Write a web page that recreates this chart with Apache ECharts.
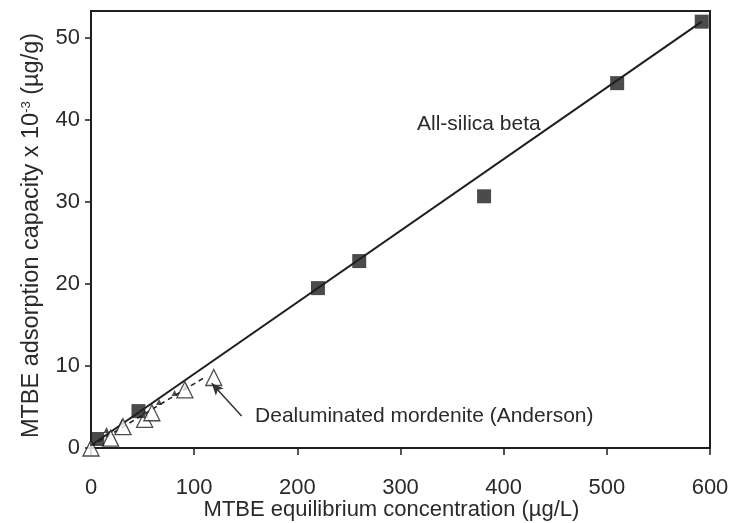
<!DOCTYPE html>
<html>
<head>
<meta charset="utf-8">
<script src="https://cdn.jsdelivr.net/npm/echarts@6/dist/echarts.min.js"></script>
<style>
  html, body { margin: 0; padding: 0; background: #fff; }
  #chart { width: 734px; height: 523px; }
</style>
</head>
<body>
<div id="chart"></div>
<script>
// All-silica beta isotherm points: [equilibrium conc (µg/L), capacity x 10^-3 (µg/g)]
const betaPoints = [
  [6, 1.1], [46, 4.5], [220, 19.5], [260, 22.8], [381, 30.7], [510, 44.5], [592, 52.0]
];
// Dealuminated mordenite (Anderson) points
const mordenitePoints = [
  [0, 0], [19, 1.2], [31, 2.6], [52, 3.5], [59, 4.3], [91, 7.1], [119, 8.6]
];
// small filled markers along the mordenite fit
const mordeniteFitMarks = [
  [15, 2.2], [30, 3.2], [66, 5.6], [81, 6.7], [92, 7.5]
];
// linear fit endpoints
const betaFit = [[0, 0.3], [592, 52.0]];
const mordeniteFit = [[0, 0.2], [110, 8.6]];

const xTicks = [0, 100, 200, 300, 400, 500, 600];
const yTicks = [0, 10, 20, 30, 40, 50];

const ink = '#1e1e1e';
const textInk = '#2a2a2a';
const font = 'Liberation Sans, Arial, sans-serif';

const chart = echarts.init(document.getElementById('chart'), null, { renderer: 'canvas' });

chart.setOption({
  animation: false,
  backgroundColor: '#fff',
  grid: {
    left: 91, right: 24, top: 11, bottom: 75,
    outerBoundsMode: 'none', containLabel: false,
    show: true, borderColor: ink, borderWidth: 2, backgroundColor: 'transparent'
  },
  xAxis: {
    type: 'value', min: 0, max: 600, interval: 100,
    name: 'MTBE equilibrium concentration (µg/L)',
    nameLocation: 'middle', nameGap: 51, nameMoveOverlap: false,
    nameTextStyle: { fontFamily: font, fontSize: 22, color: textInk, padding: [0, 18, 0, 0] },
    axisLine: { show: true, lineStyle: { color: ink, width: 2 } },
    axisTick: { show: true, length: 7, lineStyle: { color: ink, width: 1.5 }, customValues: xTicks },
    axisLabel: { fontFamily: font, fontSize: 22, color: textInk, margin: 29, customValues: xTicks },
    splitLine: { show: false }
  },
  yAxis: {
    type: 'value', min: 0, max: 53.3, interval: 10,
    name: 'MTBE adsorption capacity x 10{sup|-3} (µg/g)',
    nameLocation: 'middle', nameGap: 47, nameMoveOverlap: false,
    nameTextStyle: {
      fontFamily: font, fontSize: 23.5, color: textInk, padding: [0, 12, 0, 0],
      rich: { sup: { fontFamily: font, fontSize: 13, color: textInk, verticalAlign: 'top', padding: [0, 0, 10, 0] } }
    },
    axisLine: { show: true, lineStyle: { color: ink, width: 2 } },
    axisTick: { show: true, length: 6, lineStyle: { color: ink, width: 1.5 }, customValues: yTicks },
    axisLabel: { fontFamily: font, fontSize: 22, color: textInk, margin: 11, customValues: yTicks },
    splitLine: { show: false }
  },
  series: [
    {
      name: 'beta fit', type: 'line', data: betaFit, symbol: 'none',
      lineStyle: { color: ink, width: 2 }, z: 2,
      markPoint: {
        symbol: 'circle', symbolSize: 0,
        label: { show: true, position: 'right', distance: 0, fontFamily: font, fontSize: 21, color: textInk,
                 formatter: p => p.name },
        data: [{ name: 'All-silica beta', coord: [316, 39.5] }]
      }
    },
    {
      name: 'mordenite fit', type: 'line', data: mordeniteFit, symbol: 'none',
      lineStyle: { color: ink, width: 1.5, type: [5, 4] }, z: 2,
      markPoint: {
        symbol: 'circle', symbolSize: 0,
        label: { show: true, position: 'right', distance: 0, fontFamily: font, fontSize: 21, color: textInk,
                 formatter: p => p.name },
        data: [{ name: 'Dealuminated mordenite (Anderson)', coord: [159, 3.9] }]
      },
      markLine: {
        silent: true, symbol: ['none', 'arrow'], symbolSize: [8, 12],
        lineStyle: { color: '#333', width: 1.5, type: 'solid' },
        label: { show: false },
        data: [[{ coord: [146, 3.9] }, { coord: [117, 7.9] }]]
      }
    },
    {
      name: 'mordenite fit marks', type: 'scatter', data: mordeniteFitMarks,
      symbol: 'triangle', symbolSize: 6, itemStyle: { color: ink }, z: 3
    },
    {
      name: 'Dealuminated mordenite (Anderson)', type: 'scatter', data: mordenitePoints,
      symbol: 'triangle', symbolSize: 16,
      itemStyle: { color: '#fff', borderColor: ink, borderWidth: 1.3 }, z: 4
    },
    {
      name: 'All-silica beta', type: 'scatter', data: betaPoints,
      symbol: 'rect', symbolSize: 14, itemStyle: { color: ink }, z: 5
    }
  ]
});
</script>
</body>
</html>
